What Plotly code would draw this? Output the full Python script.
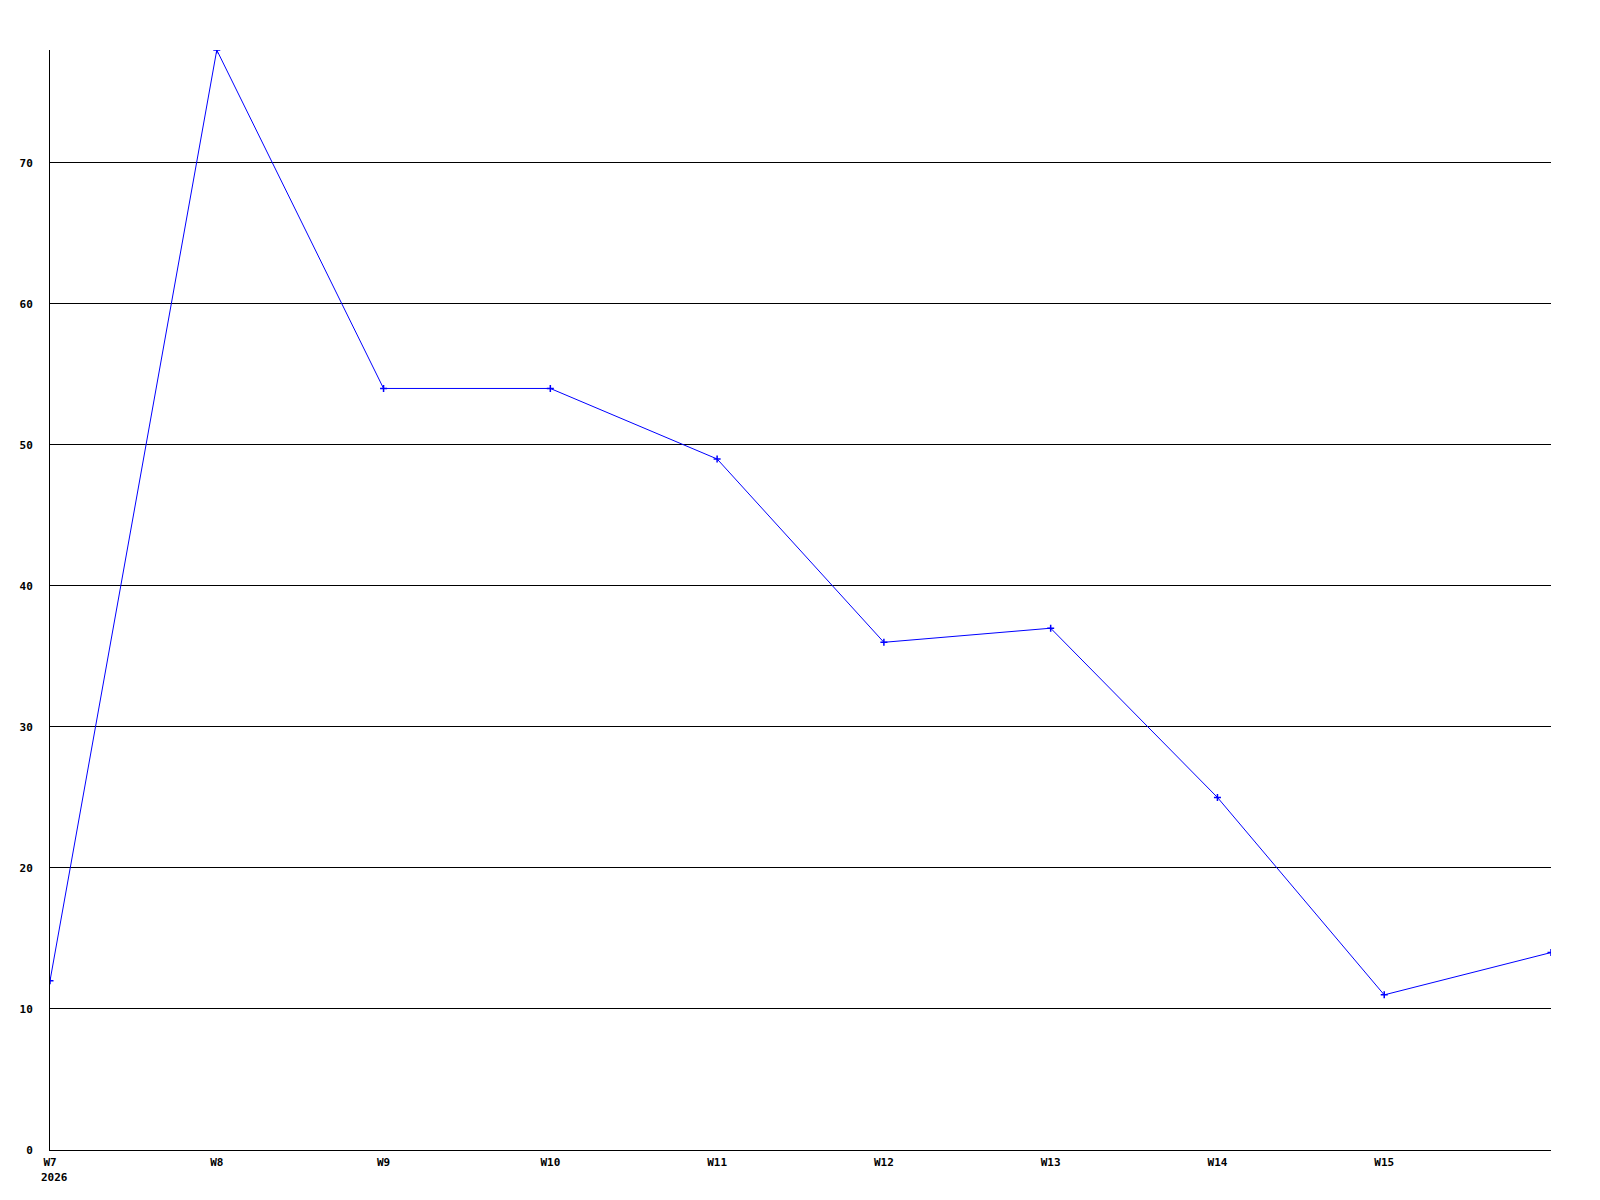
import plotly.graph_objects as go

weeks = ["W7", "W8", "W9", "W10", "W11", "W12", "W13", "W14", "W15", "W16"]
values = [12, 78, 54, 54, 49, 36, 37, 25, 11, 14]
x_tick_labels = ["W7", "W8", "W9", "W10", "W11", "W12", "W13", "W14", "W15"]
year_label = "2026"
y_ticks = [0, 10, 20, 30, 40, 50, 60, 70]

FONT = dict(family="DejaVu Sans Mono", size=11, color="black", weight="bold")

fig = go.Figure()
fig.add_trace(go.Scatter(
    x=list(range(len(weeks))), y=values, mode="lines+markers",
    line=dict(color="#0000ff", width=1),
    marker=dict(symbol="cross-thin", size=5, color="#0000ff",
                line=dict(color="#0000ff", width=1.5)),
    hovertext=weeks, showlegend=False,
))

fig.update_layout(
    width=1592, height=1192,
    margin=dict(l=42, r=49, t=42, b=50),
    paper_bgcolor="white", plot_bgcolor="white",
    font=FONT,
    xaxis=dict(
        range=[0, len(weeks) - 1],
        tickvals=list(range(len(x_tick_labels))), ticktext=x_tick_labels,
        showgrid=False, zeroline=False,
        showline=True, linecolor="black", linewidth=1,
        ticks="", ticklabelstandoff=2, tickfont=FONT,
    ),
    yaxis=dict(
        range=[0, 78], tickvals=y_ticks,
        showgrid=True, gridcolor="black", gridwidth=1,
        zeroline=False, showline=True, linecolor="black", linewidth=1,
        ticks="", ticklabelstandoff=14, tickfont=FONT,
    ),
    annotations=[dict(
        x=0, y=0, xref="x", yref="paper", text=year_label,
        showarrow=False, xanchor="left", yanchor="middle",
        xshift=-11, yshift=-27, font=FONT,
    )],
)

fig.write_html("out.html")
